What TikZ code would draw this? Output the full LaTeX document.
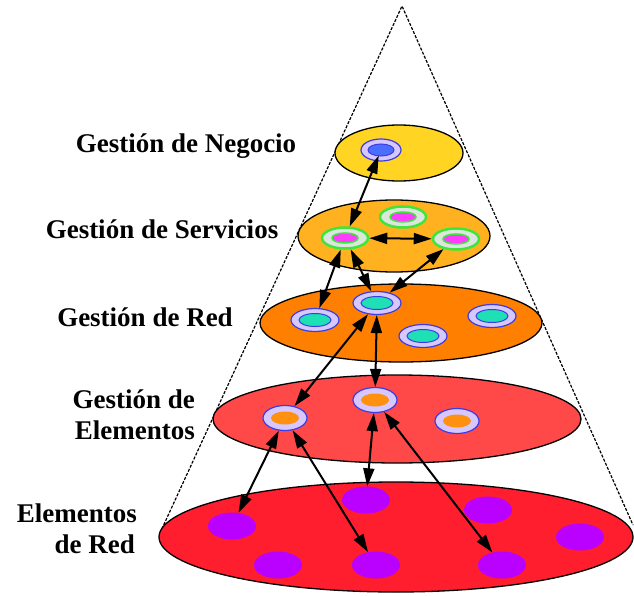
\documentclass[tikz,border=0pt]{standalone}
\usepackage{fontspec}
\setmainfont{Liberation Serif}
\usetikzlibrary{shapes.geometric,arrows.meta}
\definecolor{yelc}{HTML}{FFD422}
\definecolor{svcc}{HTML}{FFB11F}
\definecolor{redlc}{HTML}{FF8000}
\definecolor{elemc}{HTML}{FF4848}
\definecolor{botc}{HTML}{FF1E2E}
\definecolor{purc}{HTML}{BA00FF}
\definecolor{lavc}{HTML}{D6C8FF}
\definecolor{ringbc}{HTML}{3C3CE6}
\definecolor{bluec}{HTML}{4A6CFF}
\definecolor{tealc}{HTML}{1EE0B4}
\definecolor{orgc}{HTML}{FF9010}
\definecolor{greenc}{HTML}{3CE63C}
\definecolor{lgrayc}{HTML}{DCE6DC}
\definecolor{magc}{HTML}{FF3CFF}
\tikzset{
  level/.style={ellipse, draw=black, line width=1.3pt, inner sep=0pt},
  ringbase/.style={ellipse, inner sep=0pt},
  ringY/.style={ringbase, draw=ringbc, line width=1.2pt, fill=lavc,
    minimum width=40pt, minimum height=22pt,
    path picture={\draw[ringbc, line width=1pt, fill=bluec] (path picture bounding box.center) ellipse [x radius=13pt, y radius=6pt];}},
  ringS/.style={ringbase, draw=greenc, line width=2.5pt, fill=lgrayc,
    minimum width=46pt, minimum height=21pt,
    path picture={\draw[greenc, line width=1.5pt, fill=magc] (path picture bounding box.center) ellipse [x radius=13pt, y radius=5pt];}},
  ringR/.style={ringbase, draw=ringbc, line width=1.2pt, fill=lavc,
    minimum width=48pt, minimum height=23pt,
    path picture={\draw[ringbc, line width=1pt, fill=tealc] (path picture bounding box.center) ellipse [x radius=16pt, y radius=6.5pt];}},
  ringE/.style={ringbase, draw=ringbc, line width=1.2pt, fill=lavc,
    minimum width=44pt, minimum height=25pt,
    path picture={\fill[orgc] (path picture bounding box.center) ellipse [x radius=14pt, y radius=6.5pt];}},
  purp/.style={ellipse, fill=purc, inner sep=0pt, minimum width=48pt, minimum height=27pt},
  tipL/.tip={Triangle[length=18pt 0 0,width=11pt 0 0]},
  dbl/.style={tipL-tipL, line width=2pt, draw=black},
  conel/.style={line width=1.2pt, dash pattern=on 3pt off 1.5pt, draw=black},
  lbl/.style={font=\fontsize{27}{31}\selectfont\bfseries, inner sep=0pt}
}
\begin{document}
\begin{tikzpicture}[x=1pt,y=-1pt]
\useasboundingbox (0,0) rectangle (634,596);
% cone
\coordinate (apex) at (402,6);
\coordinate (cl) at (160,533);
\coordinate (cr) at (633,525);
\draw[conel] (cl) -- (apex) -- (cr);
% levels
\node[level, fill=botc, minimum width=474pt, minimum height=110pt] (L5) at (396,537) {};
\node[level, fill=elemc, minimum width=368pt, minimum height=88pt] (L4) at (397,419) {};
\node[level, fill=redlc, minimum width=282pt, minimum height=78pt] (L3) at (401,323) {};
\node[level, fill=svcc, minimum width=192pt, minimum height=72pt] (L2) at (394,236) {};
\node[level, fill=yelc, minimum width=128pt, minimum height=56pt] (L1) at (399,153) {};
% rings
\node[ringY] (yb) at (381,150) {};
\node[ringS] (st) at (403,217) {};
\node[ringS] (sl) at (345,238) {};
\node[ringS] (sr) at (456,239) {};
\node[ringR] (rl) at (315,320) {};
\node[ringR] (rt) at (377,303) {};
\node[ringR] (rr) at (492,316) {};
\node[ringR] (rb) at (423,336) {};
\node[ringE] (el) at (285,418) {};
\node[ringE] (et) at (375,400) {};
\node[ringE] (er) at (457,421) {};
\node[purp] (p1) at (232,526) {};
\node[purp] (p2) at (366,500) {};
\node[purp] (p3) at (488,510) {};
\node[purp] (p4) at (580,537) {};
\node[purp] (p5) at (278,565) {};
\node[purp] (p6) at (376,565) {};
\node[purp] (p7) at (502,565) {};
% arrows
\draw[dbl, shorten <=6pt] (yb.center) -- (sl);
\draw[dbl] (sl) -- (sr);
\draw[dbl] (sl) -- (rl);
\draw[dbl] (sl) -- (rt);
\draw[dbl] (sr) -- (rt);
\draw[dbl] (rt) -- (el);
\draw[dbl] (rt) -- (et);
\draw[dbl] (et) -- (p2);
\draw[dbl] (el) -- (p1);
\draw[dbl] (el) -- (p6);
\draw[dbl] (et) -- (p7);
% labels
\node[lbl, anchor=base] (t1) at (186,153) {Gestión de Negocio};
\node[lbl, anchor=base] (t2) at (162,238) {Gestión de Servicios};
\node[lbl, anchor=base] (t3) at (145,326) {Gestión de Red};
\node[lbl, anchor=base east] (t4a) at (195,408) {Gestión de};
\node[lbl, anchor=base east] (t4b) at (195,439) {Elementos};
\node[lbl, anchor=base east] (t5a) at (137,522) {Elementos};
\node[lbl, anchor=base east] (t5b) at (135,553) {de Red};
\end{tikzpicture}
\end{document}
